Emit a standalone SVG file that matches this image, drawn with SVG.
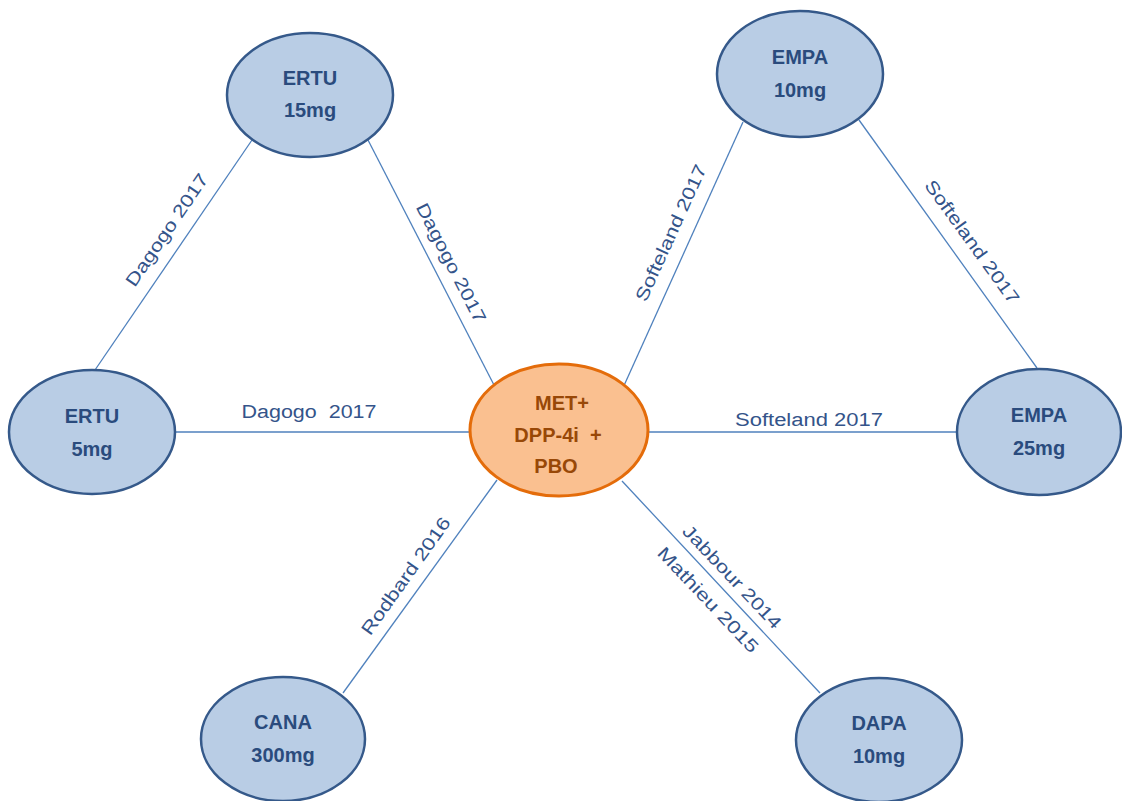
<svg xmlns="http://www.w3.org/2000/svg" width="1122" height="801" viewBox="0 0 1122 801">
<style>
.edge{stroke:#4f81bd;stroke-width:1.3;fill:none}
.lbl{font-family:"Liberation Sans",Arial,sans-serif;font-size:18px;fill:#34548a;text-anchor:middle}
.nb{fill:#b9cde5;stroke:#35598a;stroke-width:2.5}
.no{fill:#fac090;stroke:#e46c0a;stroke-width:3}
.nt{font-family:"Liberation Sans",Arial,sans-serif;font-size:20px;font-weight:bold;fill:#2a4b7d;text-anchor:middle}
.ct{font-family:"Liberation Sans",Arial,sans-serif;font-size:20px;font-weight:bold;fill:#984807;text-anchor:middle}
</style>
<rect width="1122" height="801" fill="#ffffff"/>
<g id="connectors">
<line class="edge" x1="252" y1="140" x2="95" y2="370"/>
<line class="edge" x1="368" y1="140" x2="494" y2="385"/>
<line class="edge" x1="743" y1="122" x2="622" y2="390"/>
<line class="edge" x1="859" y1="120" x2="1037" y2="368"/>
<line class="edge" x1="174" y1="432" x2="471" y2="432"/>
<line class="edge" x1="647" y1="432" x2="957" y2="432"/>
<line class="edge" x1="497" y1="480" x2="343" y2="693"/>
<line class="edge" x1="622" y1="481" x2="820" y2="693"/>
<text class="lbl" transform="translate(167,230) rotate(-55.7)" y="6" textLength="132" lengthAdjust="spacingAndGlyphs">Dagogo 2017</text>
<text class="lbl" transform="translate(451,263) rotate(62.9)" y="6" textLength="132" lengthAdjust="spacingAndGlyphs">Dagogo 2017</text>
<text class="lbl" x="309" y="418" textLength="135" lengthAdjust="spacingAndGlyphs" xml:space="preserve">Dagogo  2017</text>
<text class="lbl" transform="translate(671,233) rotate(-65.6)" y="6" textLength="148" lengthAdjust="spacingAndGlyphs">Softeland 2017</text>
<text class="lbl" transform="translate(972,242) rotate(54.2)" y="6" textLength="148" lengthAdjust="spacingAndGlyphs">Softeland 2017</text>
<text class="lbl" x="809" y="426" textLength="148" lengthAdjust="spacingAndGlyphs">Softeland 2017</text>
<text class="lbl" transform="translate(406,576) rotate(-54.6)" y="6" textLength="140" lengthAdjust="spacingAndGlyphs">Rodbard 2016</text>
<text class="lbl" transform="translate(732,577) rotate(46.7)" y="6" textLength="135" lengthAdjust="spacingAndGlyphs">Jabbour 2014</text>
<text class="lbl" transform="translate(708,600) rotate(46.7)" y="6" textLength="138" lengthAdjust="spacingAndGlyphs">Mathieu 2015</text>
</g>
<g id="node-ertu15">
<ellipse class="nb" cx="310" cy="95" rx="83" ry="62"/>
<text class="nt" x="310" y="85">ERTU</text>
<text class="nt" x="310" y="117">15mg</text>
</g>
<g id="node-ertu5">
<ellipse class="nb" cx="92" cy="432" rx="83" ry="62"/>
<text class="nt" x="92" y="423">ERTU</text>
<text class="nt" x="92" y="456">5mg</text>
</g>
<g id="node-empa10">
<ellipse class="nb" cx="800" cy="74" rx="83" ry="63"/>
<text class="nt" x="800" y="64">EMPA</text>
<text class="nt" x="800" y="97">10mg</text>
</g>
<g id="node-empa25">
<ellipse class="nb" cx="1039" cy="432" rx="82" ry="63"/>
<text class="nt" x="1039" y="422">EMPA</text>
<text class="nt" x="1039" y="455">25mg</text>
</g>
<g id="node-cana">
<ellipse class="nb" cx="283" cy="739" rx="82" ry="62"/>
<text class="nt" x="283" y="729">CANA</text>
<text class="nt" x="283" y="762">300mg</text>
</g>
<g id="node-dapa">
<ellipse class="nb" cx="879" cy="740" rx="83" ry="62"/>
<text class="nt" x="879" y="730">DAPA</text>
<text class="nt" x="879" y="763">10mg</text>
</g>
<g id="node-center">
<ellipse class="no" cx="559" cy="430" rx="89" ry="66"/>
<text class="ct" x="562" y="410">MET+</text>
<text class="ct" x="558" y="442" xml:space="preserve">DPP-4i  +</text>
<text class="ct" x="556" y="473">PBO</text>
</g>
</svg>
